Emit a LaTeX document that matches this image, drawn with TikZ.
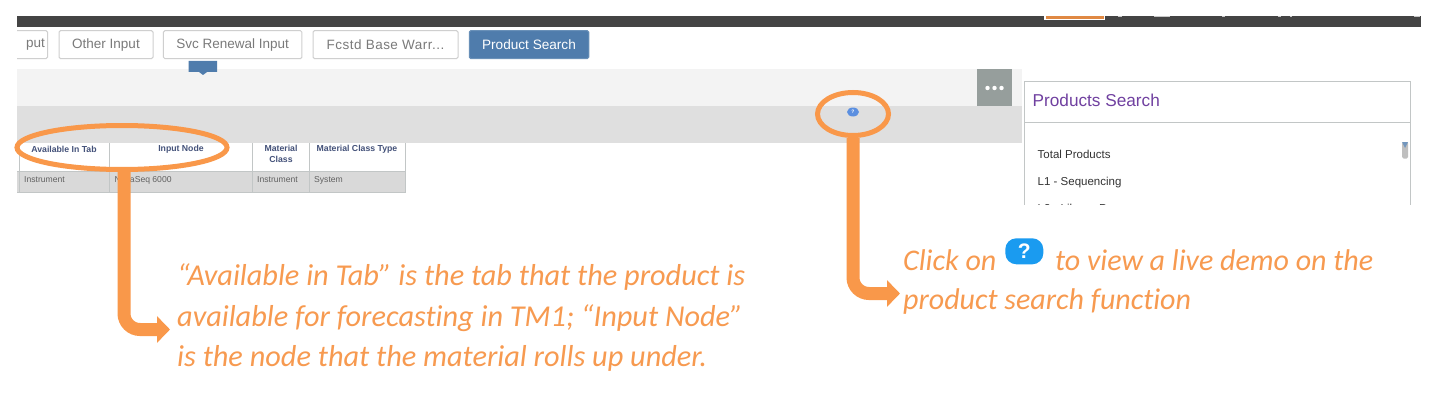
\documentclass[tikz,border=0pt]{standalone}
\usepackage{fontspec}
\setmainfont{Liberation Sans}
\newfontfamily\callfont[Ligatures=NoCommon]{Carlito}
\usetikzlibrary{arrows.meta,shapes.geometric}
\definecolor{orangeC}{HTML}{F9984A}
\definecolor{textC}{HTML}{F79A50}
\definecolor{barC}{HTML}{444444}
\definecolor{btnB}{HTML}{CFCFCF}
\definecolor{btnT}{HTML}{7A7A7A}
\definecolor{steel}{HTML}{4F7CAC}
\definecolor{bandA}{HTML}{F3F3F3}
\definecolor{bandB}{HTML}{DFDFDF}
\definecolor{dotsC}{HTML}{969E9C}
\definecolor{rowC}{HTML}{D9D9D9}
\definecolor{gridC}{HTML}{C2C6C6}
\definecolor{navyT}{HTML}{44527A}
\definecolor{purpleT}{HTML}{7040A0}
\definecolor{iconC}{HTML}{1A9BF0}
\definecolor{iconS}{HTML}{5B8FE0}
\tikzset{
  btn/.style={draw=btnB,line width=1pt,fill=white,rounded corners=1.5pt,text=btnT,inner sep=0pt,font=\fontsize{13.5}{14}\selectfont,anchor=center},
  tabhead/.style={text=navyT,font=\fontsize{8.7}{11.3}\selectfont\bfseries,inner sep=0pt,align=center},
  tabcell/.style={text=black!62,font=\fontsize{8.6}{10}\selectfont,inner sep=0pt,anchor=base west},
  ring/.style={ellipse,draw=orangeC,line width=5pt,inner sep=0pt},
  callout/.style={draw=orangeC,line width=13pt,rounded corners=16pt,-{Triangle[length=13pt,width=26pt,fill=orangeC]}},
  calltext/.style={text=textC,font=\fontsize{30}{30}\callfont\itshape,inner sep=0pt,anchor=base west},
  calltextL/.style={calltext,font=\fontsize{30.3}{30}\callfont\itshape},
  sidetext/.style={text=black!80,font=\fontsize{11.5}{12}\selectfont,inner sep=0pt,anchor=base west}
}
\begin{document}
\begin{tikzpicture}[x=1pt,y=-1pt]
\useasboundingbox (0,0) rectangle (1430,404);
\fill[white] (0,0) rectangle (1430,404);
% top bar
\fill[barC] (17,16) rectangle (1421,26.7);
\fill[white] (1044,16) rectangle (1105,20);
\fill[orangeC!90!black] (1045.5,16) rectangle (1103.5,19);
\foreach \a/\b in {1118/1122,1154/1170,1222/1225,1278/1281,1290/1292,1414/1420}
  \fill[white!70!barC] (\a,16) rectangle (\b,17.5);
% tab buttons
\begin{scope}
\clip (17,28) rectangle (600,62);
\node[btn,minimum width=50pt,minimum height=28pt] (bInput) at (22.5,44.7) {\hspace*{26pt}put};
\end{scope}
\node[btn,minimum width=94pt,minimum height=28pt] (bOther) at (106,44.7) {Other Input};
\node[btn,minimum width=138.5pt,minimum height=28pt] (bSvc) at (232.7,44.7) {Svc Renewal Input};
\node[btn,minimum width=145pt,minimum height=28pt,font=\fontsize{13.5}{14}\selectfont\addfontfeatures{LetterSpace=3.5}] (bFcst) at (385.5,44.7) {Fcstd Base Warr...};
\node[btn,draw=steel!85,fill=steel,text=white,minimum width=119.5pt,minimum height=28pt,font=\fontsize{13.6}{14}\selectfont] (bProd) at (529,44.7) {Product Search};
% bands
\fill[bandA] (17,69.5) rectangle (1022,106);
\fill[bandB] (17,106) rectangle (1022,143);
\fill[dotsC] (977,69.5) rectangle (1012,106);
\foreach \x in {987.5,994.5,1001.5} \fill[white] (\x,88) circle (2.2);
% tooltip marker
\fill[steel] (188.6,61) rectangle (217,72) (199,72) -- (203,75) -- (207,72) -- cycle;
% table
\fill[white] (19.5,143) rectangle (405.5,171);
\fill[rowC] (17,171) rectangle (405.5,192.5);
\draw[gridC,line width=1pt] (17,171) -- (405.5,171) (17,192.5) -- (405.5,192.5);
\foreach \x in {19.5,109.5,252.5,309.5,405.5} \draw[gridC,line width=0.8pt] (\x,143) -- (\x,192.5);
\node[tabhead] (hAvail) at (64,149.5) {Available In Tab};
\node[tabhead] (hInput) at (181,149.5) {Input Node};
\node[tabhead,anchor=north] (hMat) at (281,145) {Material\\Class};
\node[tabhead] (hType) at (357,149.5) {Material Class Type};
\node[tabcell] (cInst) at (24,182) {Instrument};
\node[tabcell] (cNode) at (114.5,182) {NovaSeq 6000};
\node[tabcell] (cMat) at (257,182) {Instrument};
\node[tabcell] (cSys) at (314,182) {System};
% products search panel
\begin{scope}
\clip (1020,75) rectangle (1415,204);
\draw[gridC,line width=1pt,fill=white] (1024,81.5) rectangle (1410,230);
\draw[gridC,line width=1pt] (1024,122) -- (1410,122);
\node[text=purpleT,font=\fontsize{17.2}{18}\selectfont,inner sep=0pt,anchor=base west] (pTitle) at (1032.5,106.5) {Products Search};
\node[sidetext] (p1) at (1037.5,158) {Total Products};
\node[sidetext] (p2) at (1037.5,185.5) {L1 - Sequencing};
\node[sidetext] (p3) at (1037.5,212.5) {L2 - Library Prep};
\fill[black!25,rounded corners=1.5pt] (1402,142) rectangle (1408,158.5);
\fill[steel!80] (1402,142) -- (1408,142) -- (1405,148) -- cycle;
\end{scope}
% help icon
\node[ellipse,fill=iconS,minimum width=12pt,minimum height=9pt,inner sep=0pt,text=white,font=\fontsize{5}{5}\selectfont\bfseries] (helpSmall) at (853,112) {?};
% rings and connectors
\node[ring,minimum width=210pt,minimum height=44pt] (ringL) at (122,147.5) {};
\node[ring,minimum width=71pt,minimum height=43pt] (ringR) at (853,114) {};
\coordinate (tipL) at (170,329.5);
\coordinate (tipR) at (900,293.5);
\draw[callout] ([xshift=2pt]ringL.south) -- ([xshift=2pt]ringL.south |- tipL) -- (tipL);
\draw[callout] (ringR.south) -- (ringR.south |- tipR) -- (tipR);
% callout text
\node[calltextL] (tA) at (177,285.5) {“Available in Tab” is the tab that the product is};
\node[calltextL] (tB) at (177,326) {available for forecasting in TM1; “Input Node”};
\node[calltextL] (tC) at (177,366) {is the node that the material rolls up under.};
\node[calltext] (tD) at (903,270) {Click on};
\node[fill=iconC,rounded corners=11pt,minimum width=38pt,minimum height=26pt,inner sep=0pt,text=white,font=\fontsize{21}{21}\selectfont\bfseries] (helpBig) at (1024.3,251.3) {?};
\node[calltext] (tE) at (1055,270) {to view a live demo on the};
\node[calltext] (tF) at (903,309) {product search function};
\end{tikzpicture}
\end{document}
